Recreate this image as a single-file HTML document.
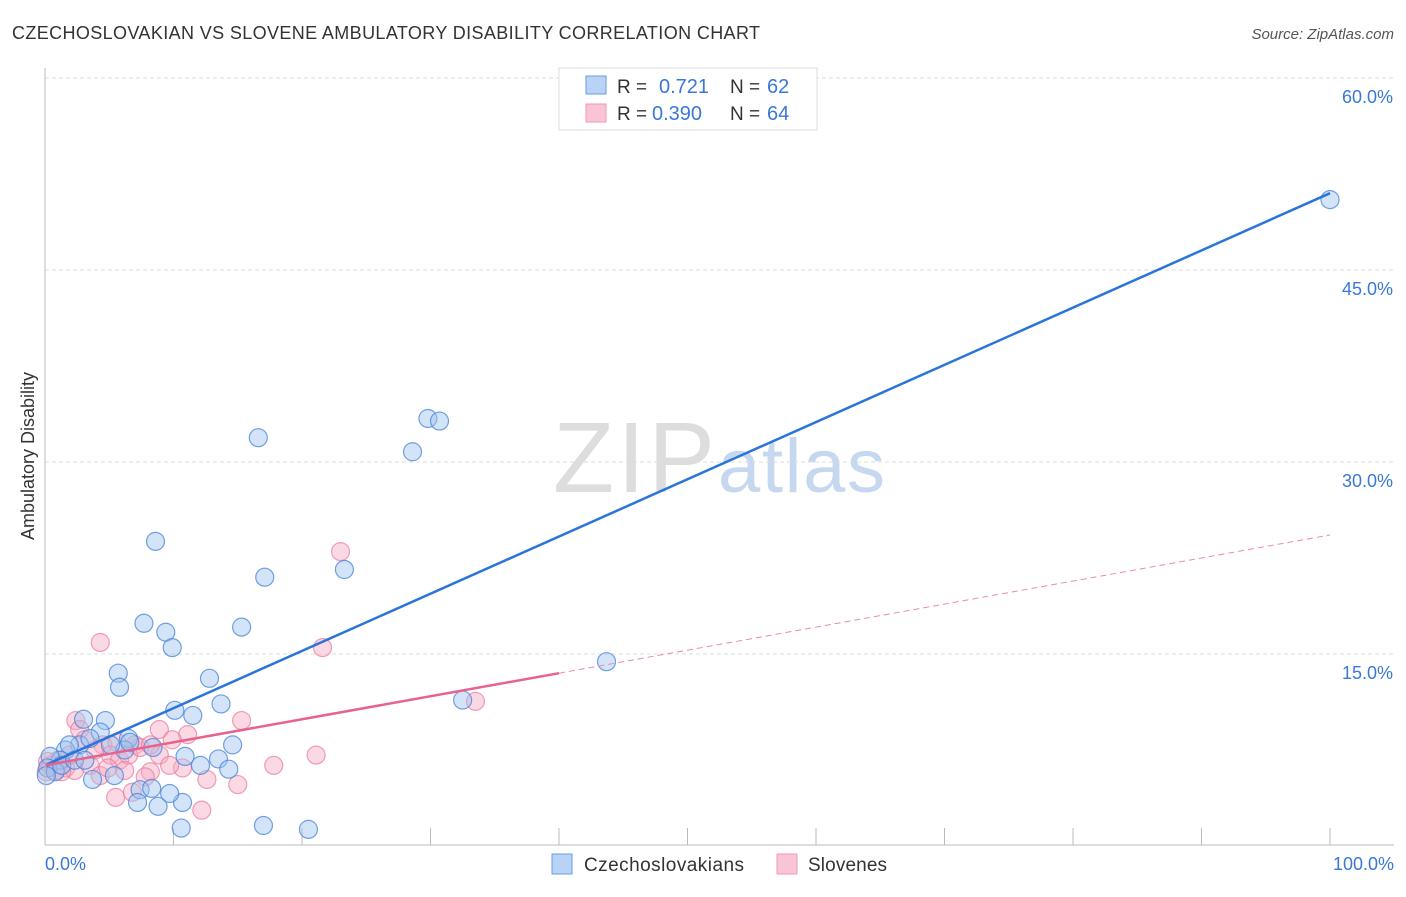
<!DOCTYPE html>
<html><head><meta charset="utf-8"><style>
body{margin:0;background:#fff;font-family:"Liberation Sans",sans-serif;}
svg text{font-family:"Liberation Sans",sans-serif;}
</style></head><body>
<svg id="c" width="1406" height="892">
<text x="12" y="39" font-size="18" fill="#333" textLength="748">CZECHOSLOVAKIAN VS SLOVENE AMBULATORY DISABILITY CORRELATION CHART</text>
<text x="1394" y="39" font-size="15" fill="#555" font-style="italic" text-anchor="end">Source: ZipAtlas.com</text>
<text transform="translate(34,456) rotate(-90)" font-size="18" fill="#333" text-anchor="middle">Ambulatory Disability</text>
<g><text x="553" y="492" font-size="100" fill="#ddd" font-family="Liberation Serif" textLength="162">ZIP</text><text x="718" y="492" font-size="76" fill="#c5d8f0" textLength="167">atlas</text></g>
<g id="grid"></g><g id="pts"></g><g id="lines"></g>
<line x1="45" y1="68" x2="45" y2="845" stroke="#bbb"/>
<line x1="45" y1="845" x2="1394" y2="845" stroke="#bbb"/>
<text x="45" y="870" font-size="18" fill="#3a78d8">0.0%</text>
<text x="1394" y="870" font-size="18" fill="#3a78d8" text-anchor="end">100.0%</text>
<g>
<rect x="559" y="68" width="258" height="62" fill="#fff" stroke="#ddd"/>
<rect x="586" y="76" width="20" height="18" fill="#b8d3f5" stroke="#6a9ee0"/>
<rect x="586" y="104" width="20" height="18" fill="#f9c4d3" stroke="#ee9ab5"/>
<text x="617" y="93" font-size="19" fill="#333">R = </text><text x="659" y="93" font-size="20" fill="#3a78d8">0.721</text>
<text x="730" y="93" font-size="19" fill="#333">N = </text><text x="767" y="93" font-size="20" fill="#3a78d8">62</text>
<text x="617" y="120" font-size="19" fill="#333">R = </text><text x="652" y="120" font-size="20" fill="#3a78d8">0.390</text>
<text x="730" y="120" font-size="19" fill="#333">N = </text><text x="767" y="120" font-size="20" fill="#3a78d8">64</text>
</g>
<g>
<rect x="552" y="854" width="20" height="20" fill="#b8d3f5" stroke="#6a9ee0"/>
<text x="584" y="871" font-size="19" fill="#333" textLength="160">Czechoslovakians</text>
<rect x="777" y="854" width="20" height="20" fill="#f9c4d3" stroke="#ee9ab5"/>
<text x="808" y="871" font-size="19" fill="#333" textLength="79">Slovenes</text>
</g>
</svg>
<script>
const yTicks=[15,30,45,60];
const xTickVals=[10,20,30,40,50,60,70,80,90,100];
const blueX=[100,29.8,30.7,28.6,16.6,8.6,17.1,23.3,7.7,9.4,9.9,15.3,43.7,5.7,5.8,12.8,32.5,10.1,11.5,13.7,3.0,4.7,14.6,8.4,10.9,13.5,14.3,12.1,6.5,4.3,2.7,1.6,1.2,0.4,0.2,1.9,3.5,6.2,5.4,3.7,7.4,7.2,8.8,10.7,9.7,8.3,10.6,17.0,20.5,0.8,1.3,2.3,5.1,6.6,3.1,0.1];
const blueY=[50.5,33.4,33.2,30.8,31.9,23.8,21.0,21.6,17.4,16.7,15.5,17.1,14.4,13.5,12.4,13.1,11.4,10.6,10.2,11.1,9.9,9.8,7.9,7.7,7.0,6.8,6.0,6.3,8.4,8.9,7.9,7.5,6.7,7.0,6.1,7.9,8.4,7.5,5.5,5.2,4.4,3.4,3.1,3.4,4.1,4.5,1.4,1.6,1.3,5.8,6.3,6.7,7.9,8.1,6.7,5.5];
const pinkX=[23.0,4.3,21.6,33.5,15.3,21.1,17.8,11.1,8.9,9.9,2.4,2.7,4.5,5.6,7.0,8.9,8.2,7.8,10.7,9.7,12.6,15.0,5.5,6.8,12.2,1.0,0.4,1.6,2.3,3.5,4.3,5.1,5.8,3.9,3.1,1.9,0.8,0.2,6.5,7.4,4.9,1.3,8.2,6.2,0.1];
const pinkY=[23.0,15.9,15.5,11.3,9.8,7.1,6.3,8.7,9.1,8.3,9.8,9.1,7.9,8.1,7.9,7.1,5.8,5.4,6.1,6.3,5.2,4.8,3.8,4.2,2.8,6.7,6.3,6.1,5.9,6.3,5.5,7.1,6.7,7.5,8.3,7.1,5.9,6.6,7.1,7.7,6.1,5.8,7.9,5.9,5.8];
const blueTrend=[6.3,0.447];
const pinkTrend=[6.3,0.18];
const xs=v=>45+v*12.85, ys=v=>846-v*12.8;
const NS='http://www.w3.org/2000/svg';
function mk(t,a,p){const e=document.createElementNS(NS,t);for(const k in a)e.setAttribute(k,a[k]);p.appendChild(e);return e;}
const grid=document.getElementById('grid');
yTicks.forEach(v=>{
 const l=mk('line',{x1:45,x2:1394,y1:ys(v),y2:ys(v),stroke:'#ddd','stroke-dasharray':'4,3'},grid);
 
 
 const t=mk('text',{x:1393,y:ys(v)+25,'font-size':18,fill:'#3a78d8','text-anchor':'end'},grid);
 t.textContent=v.toFixed(1)+'%';
 
 
});
xTickVals.forEach(v=>{
 const l=mk('line',{x1:xs(v),x2:xs(v),y1:828,y2:845,stroke:'#bbb'},grid);
 
 
});
const pts=document.getElementById('pts');
pinkX.forEach((x,i)=>{
 const c=mk('circle',{cx:xs(x),cy:ys(pinkY[i]),r:9,fill:'rgba(247,170,195,0.45)',stroke:'rgba(232,120,155,0.7)','stroke-width':1.2},pts);
 
 
});
blueX.forEach((x,i)=>{
 const c=mk('circle',{cx:xs(x),cy:ys(blueY[i]),r:9,fill:'rgba(160,195,240,0.45)',stroke:'rgba(70,130,215,0.75)','stroke-width':1.2},pts);
 
 
});
const lines=document.getElementById('lines');
let l=mk('line',{x1:xs(0),y1:ys(blueTrend[0]),x2:xs(100),y2:ys(blueTrend[0]+100*blueTrend[1]),stroke:'#2b74d8','stroke-width':2.5},lines);


l=mk('line',{x1:xs(0),y1:ys(pinkTrend[0]),x2:xs(40),y2:ys(pinkTrend[0]+40*pinkTrend[1]),stroke:'#e8628e','stroke-width':2.5},lines);


l=mk('line',{x1:xs(40),y1:ys(pinkTrend[0]+40*pinkTrend[1]),x2:xs(100),y2:ys(pinkTrend[0]+100*pinkTrend[1]),stroke:'#eb8aa9','stroke-width':1,'stroke-dasharray':'6,4'},lines);


</script>
</body></html>
